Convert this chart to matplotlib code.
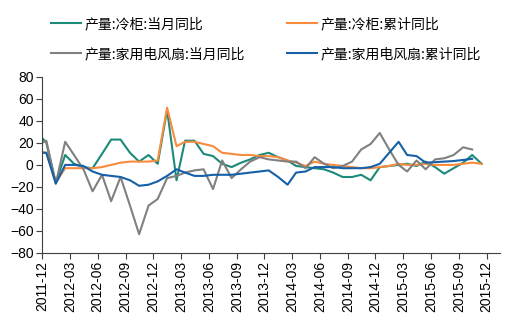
import matplotlib
matplotlib.use('Agg')
import matplotlib.pyplot as plt
import matplotlib.transforms as mtransforms
import numpy as np
import pandas as pd

plt.rcParams['font.family'] = ['Liberation Sans', 'DejaVu Sans']

# monthly points, 2011-11 .. 2015-11 (first one sits just left of the axis)
months = pd.date_range('2011-11-01', periods=49, freq='MS') + pd.Timedelta(days=14)

nan = np.nan
freezer_month = [30, 20, -16, 9, 1, -2, -3, 10, 23, 23, 11, 3, 9, 1, 50, -14, 22, 22,
                 10, 8, 1, -2, 2, 5, 9, 11, 7, 4, -1, -2, -3, -4, -7, -11, -11, -9,
                 -14, -2, -1, 0, 1, -1, 3, -2, -8, -3, 2, 9, 1]
freezer_cum = [12.5, 11, -16, -3, -3, -3, -3, -2, 0, 2, 3, 3, 3, 4, 52, 17, 21, 21,
               19, 17, 11, 10, 9, 9, 8, 8, 7, 4, 2, -1, 3, 1, 0, -1, -2, -3,
               -3, -2, -1, 1, 0, 0, 1, 0, 0, 0, 1, 2, 1]
fan_month = [18, 22, -17, 21, 9, -4, -24, -9, -33, -11, -37, -63, -37, -31, -12, -10, -7, -5,
             -4, -22, 4, -12, -4, 3, 7, 5, 4, 3, 3, -3, 7, 1, -3, -1, 3, 14,
             19, 29, 14, 0, -6, 4, -4, 5, 6, 9, 16, 14, nan]
fan_cum = [11, 11, -17, 0, 0, -1, -6, -9, -10, -11, -14, -19, -18, -15, -10, -4, -7, -10,
           -10, -9, -9, -9, -8, -7, -6, -5, -11, -18, -7, -6, -2, -2, -2, -3, -3, -3,
           -2, 1, 11, 21, 9, 8, 2, 2.5, 3, 3.5, 4.5, 5.5, nan]

labels = ['产量:冷柜:当月同比', '产量:冷柜:累计同比',
          '产量:家用电风扇:当月同比', '产量:家用电风扇:累计同比']
colors = ['#1B8A78', '#F98B3D', '#808080', '#1560A8']

fig = plt.figure(figsize=(5.07, 3.23), dpi=100)
ax = fig.add_axes([0.083, 0.217, 0.903, 0.545])

lines = []
for vals, lab, col in zip([freezer_month, freezer_cum, fan_month, fan_cum], labels, colors):
    ln, = ax.plot(months, vals, color=col, lw=1.5, label=lab)
    lines.append(ln)

ticks = pd.date_range('2011-12-01', '2015-12-01', freq='3MS')
ax.set_xticks(ticks)
ax.set_xticklabels([t.strftime('%Y-%m') for t in ticks], rotation=90, fontsize=10)
ax.set_xlim(pd.Timestamp('2011-12-01'), pd.Timestamp('2016-01-14'))
offset = mtransforms.ScaledTranslation(4 / 100, 0, fig.dpi_scale_trans)
for lbl in ax.get_xticklabels():
    lbl.set_transform(lbl.get_transform() + offset)

ax.set_ylim(-80, 80)
ax.set_yticks(range(-80, 81, 20))
ax.tick_params(axis='y', labelsize=10, length=4, color='#404040', pad=2)
ax.tick_params(axis='x', length=4, color='#404040', pad=2)
for s in ['top', 'right']:
    ax.spines[s].set_visible(False)
for s in ['left', 'bottom']:
    ax.spines[s].set_color('#404040')

order = [lines[0], lines[2], lines[1], lines[3]]
fig.legend(order, [l.get_label() for l in order], ncol=2, loc='upper left',
           bbox_to_anchor=(0.1, 0.947), frameon=False, borderpad=0, borderaxespad=0,
           handlelength=2.2, handletextpad=0.25, columnspacing=3.0, labelspacing=1.15,
           prop={'family': ['Noto Sans CJK SC', 'DejaVu Sans'], 'size': 10})

fig.savefig('out.png', dpi=100)
